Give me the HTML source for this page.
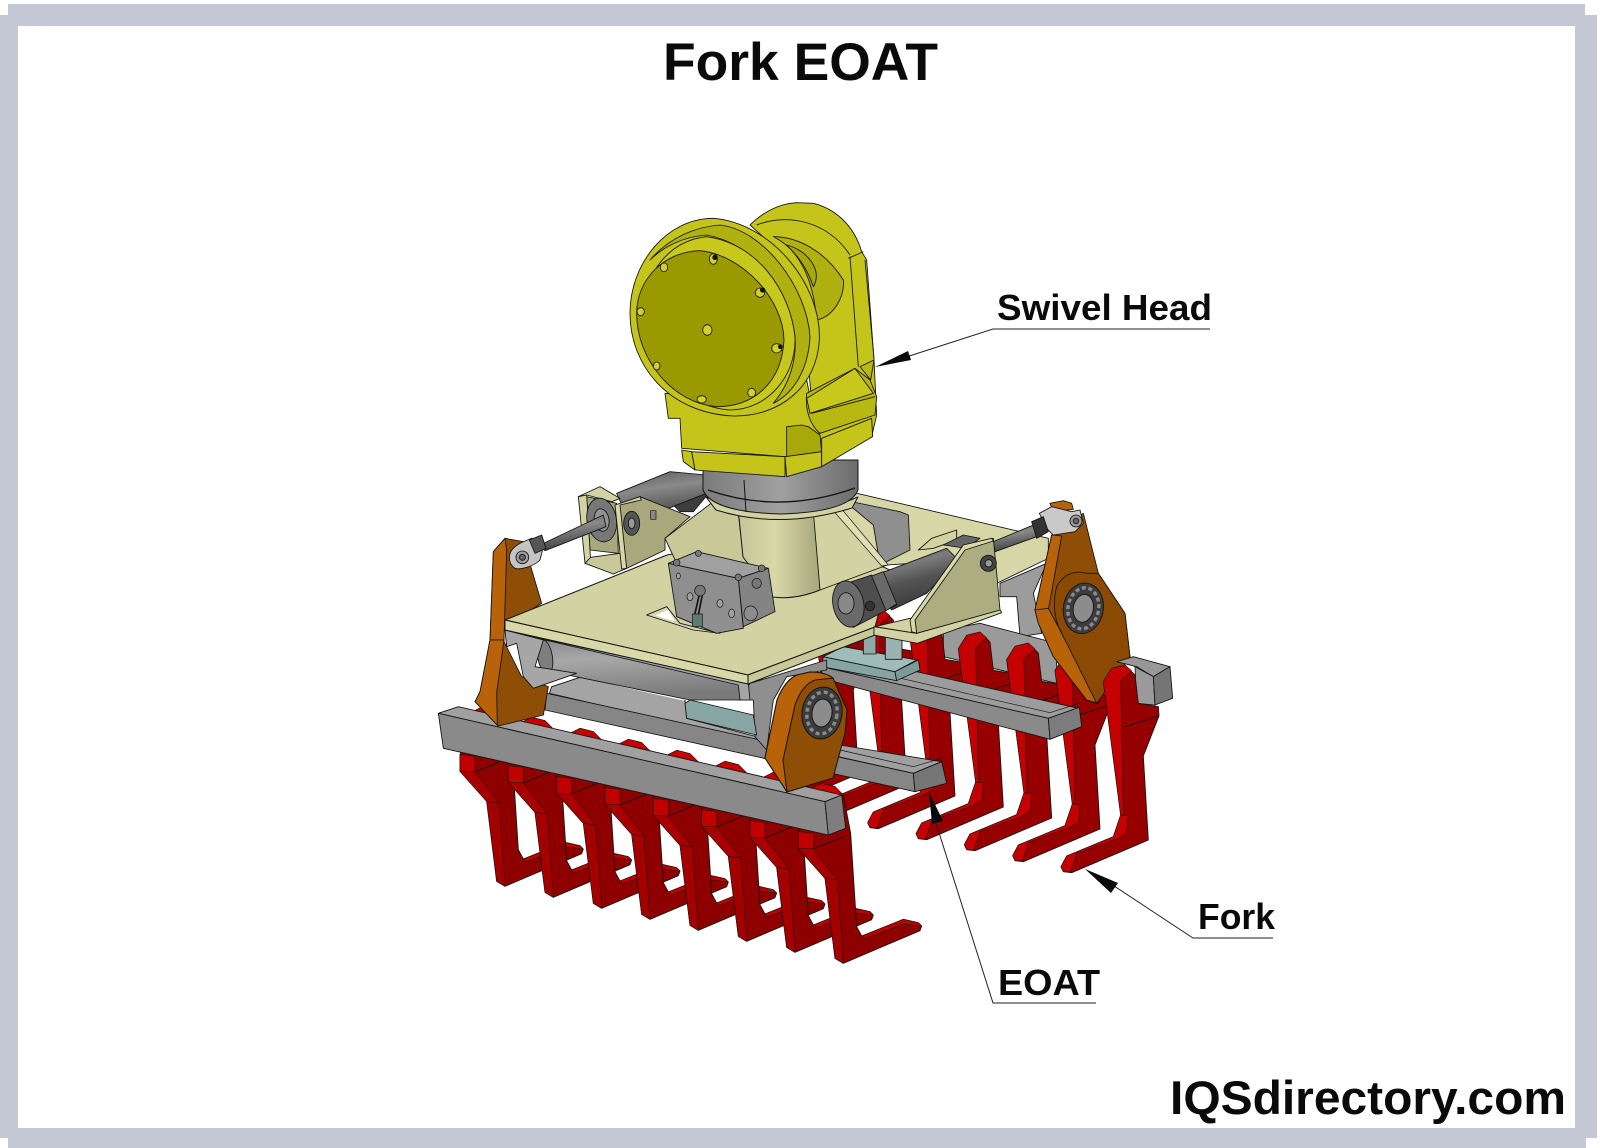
<!DOCTYPE html>
<html><head><meta charset="utf-8"><title>Fork EOAT</title>
<style>html,body{margin:0;padding:0;background:#fff}svg{display:block}text{font-family:"Liberation Sans",Arial,sans-serif;font-weight:bold;fill:#0a0a0a}</style>
</head><body>
<svg xmlns="http://www.w3.org/2000/svg" width="1600" height="1148" viewBox="0 0 1600 1148">
<defs>
<linearGradient id="cyl" x1="0" y1="0" x2="0.25" y2="1"><stop offset="0" stop-color="#5a5a5a"/><stop offset=".4" stop-color="#8a8a8a"/><stop offset="1" stop-color="#3e3e3e"/></linearGradient>
<linearGradient id="cyl2" x1="0" y1="0" x2="0.2" y2="1"><stop offset="0" stop-color="#8c8c8c"/><stop offset=".35" stop-color="#a8a8a8"/><stop offset="1" stop-color="#7a7a7a"/></linearGradient>
<linearGradient id="cyl3" x1="0" y1="0" x2="0.35" y2="1"><stop offset="0" stop-color="#5c5c5c"/><stop offset=".35" stop-color="#7c7c7c"/><stop offset=".6" stop-color="#555"/><stop offset="1" stop-color="#3a3a3a"/></linearGradient>
<linearGradient id="cone" x1="0" y1="0" x2="1" y2="0"><stop offset="0" stop-color="#c4c498"/><stop offset=".45" stop-color="#d8d8a8"/><stop offset="1" stop-color="#a6a67c"/></linearGradient>
<linearGradient id="ring" x1="0" y1="0" x2="1" y2="0"><stop offset="0" stop-color="#7a7a7a"/><stop offset=".5" stop-color="#a0a0a0"/><stop offset="1" stop-color="#6c6c6c"/></linearGradient>
<g id="rf">
<polygon fill="#960000" points="760,125 785,85 825,75 855,105 865,190 925,200 927,228 880,348 895,600 665,698 640,695 633,680 650,648 790,590 812,525"/>
<polygon fill="#c40000" stroke-width="1.5" points="760,125 785,85 825,75 845,92 812,122 820,525 812,525"/>
<polygon fill="#c40000" stroke-width="1.5" points="812,525 835,528 830,580 800,597 680,640 662,696 640,695 633,680 650,648 790,590"/>
<polyline fill="none" points="820,262 925,228"/>
</g>
<g id="ff">
<polygon fill="#8e0000" points="1145,265 1175,250 1215,260 1240,285 1262,400 1280,680 1295,708 1420,658 1465,668 1475,678 1470,692 1240,790 1215,775 1185,535 1105,445 1105,395"/>
<polygon fill="#c80000" stroke-width="1.5" points="1145,265 1175,250 1215,260 1240,285 1200,290"/>
<polygon fill="#c00000" stroke-width="1.5" points="1105,395 1150,400 1150,447 1105,445"/>
<polygon fill="#a80000" stroke-width="1.5" points="1105,445 1150,447 1222,540 1185,535"/>
<polygon fill="#a40000" stroke-width="1.5" points="1185,535 1222,540 1240,790 1215,775"/>
<polygon fill="#b80000" stroke-width="1.5" points="1295,708 1420,658 1465,668 1475,678 1420,672 1305,716"/>
<polyline fill="none" points="1150,447 1240,410"/>
</g>
</defs>

<!-- frame -->
<rect width="1600" height="1148" fill="#fff"/>
<path fill="#c4c8d4" d="M8,4H1585V15H1597V1138H1586V1148H8V1138H0V15H8Z"/>
<rect x="18" y="26" width="1557" height="1102" fill="#fff"/>

<g stroke="#141414" stroke-width="1" stroke-linejoin="round">

<!-- rear top plate + gray rear structure (Z3 coords) -->
<g transform="translate(800 470) scale(.33333)" stroke-width="2.6">
<polygon fill="#d6d6a6" points="150,65 745,205 745,265 590,340 340,280 260,285 90,100"/>
<polygon fill="#9c9c9c" points="600,340 740,280 700,370 725,490 660,500 650,380 600,380"/>
<polygon fill="#8f8f8f" points="130,90 300,125 325,135 330,240 240,285 220,165"/>
<polygon fill="#9a9a9a" points="430,480 540,460 770,520 770,640 430,560"/>
</g>

<!-- rear forks -->
<g transform="translate(850 640) scale(.33333)" stroke-width="2.6">
<use href="#rf" x="-870" y="-198"/>
<use href="#rf" x="-725" y="-165"/>
<use href="#rf" x="-580" y="-132"/>
<use href="#rf" x="-435" y="-99"/>
<use href="#rf" x="-290" y="-66"/>
<use href="#rf" x="-145" y="-33"/>
</g>

<!-- right lever, stub (Z3) -->
<g transform="translate(800 470) scale(.33333)" stroke-width="2.6">
<polygon fill="#8f4e05" points="755,195 850,130 895,310 975,430 990,560 890,700 860,690 760,560 715,460 705,420"/>
<polygon fill="#b8620a" points="755,195 785,198 745,420 705,420"/>
<polygon fill="#b8620a" points="705,420 745,415 780,480 895,700 860,690 760,560 715,460"/>
<path fill="#8a4a04" d="M770,350C790,310 830,300 860,310L895,310 975,430 990,560 890,700 780,480C760,440 760,390 770,350Z"/>
<ellipse cx="850" cy="415" rx="60" ry="76" fill="#3c3c3c" transform="rotate(10 850 415)"/>
<ellipse cx="850" cy="415" rx="46" ry="62" fill="none" stroke="#8a8a8a" stroke-width="10" stroke-dasharray="12 8" transform="rotate(10 850 415)"/>
<ellipse cx="850" cy="415" rx="30" ry="42" fill="#8c8c8c" transform="rotate(10 850 415)"/>
<polygon fill="#b8620a" points="750,100 790,92 815,100 820,118 760,125"/>
<polygon fill="#c9c9c9" points="718,130 755,110 815,125 840,120 850,160 825,185 760,195 740,175"/>
<circle cx="828" cy="153" r="18" fill="#9a9a9a"/><circle cx="828" cy="153" r="8" fill="#6a6a6a"/>
<polygon fill="#989898" points="950,575 1000,560 1110,590 1060,620 1010,590"/>
<polygon fill="#9a9a9a" points="1005,590 1060,620 1065,705 1010,700"/>
<polygon fill="#757575" points="1060,620 1110,590 1118,685 1065,705"/>
</g>

<!-- last rear fork -->
<g transform="translate(850 640) scale(.33333)" stroke-width="2.6"><use href="#rf"/></g>

<!-- long rear bar and teal (Z3) -->
<g transform="translate(800 470) scale(.33333)" stroke-width="2.6">
<polygon fill="#9c9c9c" points="65,590 290,620 350,605 835,715 745,745"/>
<polygon fill="#8a8a8a" points="65,590 745,745 750,808 65,625"/>
<polygon fill="#7c7c7c" points="745,745 838,712 845,770 750,808"/>
<polyline fill="none" points="290,622 750,728 838,700" stroke-width="2"/>
<polygon fill="#86a4a2" points="70,560 285,605 290,632 65,590"/>
<polygon fill="#a0bcba" points="70,560 130,530 350,570 285,605"/>
<polygon fill="#7c9a98" points="285,605 355,570 360,600 290,632"/>
<rect x="190" y="490" width="38" height="62" fill="#8fa9a8"/>
<rect x="256" y="500" width="50" height="68" fill="#9ab2b2"/>
</g>

<!-- left rear cylinder and bracket (Z2) -->
<g transform="translate(480 470) scale(.33333)" stroke-width="2.6">
<polygon fill="#3e3e3e" points="570,95 690,65 640,125 600,125"/>
<polygon fill="url(#cyl)" points="410,70 570,5 680,15 680,70 450,160"/>
<polygon fill="#d2d2a2" points="295,80 360,50 420,85 395,95 320,75"/>
<polygon fill="#a8a87c" points="320,80 410,100 415,250 330,240"/>
<polygon fill="#d2d2a2" points="295,80 320,75 332,275 315,280"/>
<polygon fill="#c8c898" points="315,280 332,262 420,250 440,295 400,312"/>
<ellipse cx="365" cy="150" rx="44" ry="66" fill="#777" transform="rotate(-10 365 150)"/>
<ellipse cx="365" cy="150" rx="22" ry="34" fill="#949494" transform="rotate(-10 365 150)"/>
<polygon fill="url(#cyl)" points="180,225 370,135 378,170 195,242"/>
<polygon fill="#a8a87c" points="418,102 480,80 630,140 555,205 555,240 440,295"/>
<polygon fill="#d6d6a6" points="405,105 480,80 484,90 420,105 440,295 425,297"/>
<ellipse cx="455" cy="160" rx="24" ry="36" fill="#555"/><ellipse cx="455" cy="160" rx="10" ry="16" fill="#999"/>
<rect x="512" y="122" width="16" height="26" fill="#888" stroke-width="2"/>
</g>

<!-- under-plate rail (Z2) -->
<g transform="translate(480 470) scale(.33333)" stroke-width="2.6">
<polygon fill="#a4a4a4" points="215,650 300,622 615,690 620,745 830,800 860,830 855,860 200,695"/>
<polyline fill="none" points="210,670 830,815" stroke-width="2"/>
<polygon fill="#fff" stroke="none" points="290,612 625,685 610,692 300,622"/>
</g>
<!-- rail end (Z4) -->
<g transform="translate(430 700) scale(.33333)" stroke-width="2.6">
<polygon fill="#a0a0a0" points="1000,100 1230,135 1535,185 1450,220 1000,120"/>
<polygon fill="#868686" points="350,-20 1450,220 1455,275 345,30"/>
<polyline fill="none" points="1230,150 1450,200 1535,175" stroke-width="2"/>
<polygon fill="#767676" points="1450,220 1535,185 1550,250 1455,275"/>
</g>

<!-- front forks and bar (Z4) -->
<g transform="translate(430 700) scale(.33333)" stroke-width="2.6">
<use href="#ff" x="-1015" y="-231"/>
<use href="#ff" x="-870" y="-198"/>
<use href="#ff" x="-725" y="-165"/>
<use href="#ff" x="-580" y="-132"/>
<use href="#ff" x="-435" y="-99"/>
<use href="#ff" x="-290" y="-66"/>
<use href="#ff" x="-145" y="-33"/>
<use href="#ff"/>
<polygon fill="#a0a0a0" points="25,40 85,20 1235,285 1185,305"/>
<polygon fill="#8a8a8a" points="25,40 1185,305 1195,405 40,145"/>
<polygon fill="#7e7e7e" points="1185,305 1235,285 1247,385 1195,405"/>
</g>

<!-- left lever (Z2) -->
<g transform="translate(480 470) scale(.33333)" stroke-width="2.6">
<polygon fill="#8f4e05" points="40,245 75,205 130,215 185,400 70,470 72,515 125,620 205,650 190,735 55,768 -15,695 0,665 30,510"/>
<polygon fill="#b8620a" points="40,245 75,205 80,240 72,510 30,510"/>
<polygon fill="#b8620a" points="-15,695 0,665 30,510 72,510 50,668 52,766"/>
<path fill="#c4c4c4" d="M90,250C100,225 130,215 155,205L190,230 180,270C160,290 120,300 105,295 90,285 85,270 90,250Z"/>
<circle cx="127" cy="262" r="19" fill="#9c9c9c"/><circle cx="127" cy="262" r="9" fill="#666"/>
<polygon fill="#555" points="148,210 185,195 198,235 165,250"/>
</g>

<!-- under-plate brackets / cylinder (Z2) -->
<g transform="translate(480 470) scale(.33333)" stroke-width="2.6">
<polygon fill="#8f8f8f" points="810,640 1040,570 1040,600 920,620 880,690 860,840 825,800 820,690 775,690"/>
<polygon fill="#a4a4a4" points="110,490 805,640 810,690 775,690 770,650 190,512"/>
<polygon fill="url(#cyl2)" points="195,510 775,645 780,690 630,690 190,600"/>
<ellipse cx="195" cy="560" rx="22" ry="52" fill="#7e7e7e" transform="rotate(-10 195 560)"/>
<polygon fill="#a6a6a6" points="75,480 190,510 165,590 290,610 160,655 130,620 110,520 80,530"/>
<polygon fill="#88a6a4" points="615,700 630,690 820,735 830,795 620,745"/>
</g>

<!-- main plate -->
<polygon fill="#d2d2a2" points="505,620 667,555 800,530 890,570 875,627 748,675"/>
<polygon fill="#d8d8a8" points="505,620 748,675 748,684 505,630"/>
<polygon fill="#c8c898" points="748,675 875,627 875,635 748,684"/>
<polygon fill="#fff" points="647,615 667,607 675,622"/>

<!-- cone (Z2/Z3) -->
<g transform="translate(480 470) scale(.33333)" stroke-width="2.6">
<polygon fill="#c8c898" points="555,205 700,95 775,130 790,260 880,380 590,280"/>
</g>
<path fill="url(#cone)" d="M738,508H815L820,590Q795,600 773,597L743,557Z"/>
<g transform="translate(800 470) scale(.33333)" stroke-width="2.6">
<polygon fill="#d2d2a2" points="40,125 90,100 262,285 60,360"/>
<polygon fill="#e0e0b4" stroke-width="2" points="85,105 115,105 265,285 245,288"/>
</g>

<!-- center box (Z2) -->
<g transform="translate(480 470) scale(.33333)" stroke-width="2.6">
<polygon fill="#d6d6b0" points="500,435 560,410 600,460 720,490 640,480"/>
<polygon fill="#fff" points="525,436 565,420 585,455" stroke="none"/>
<polygon fill="#8f8f8f" points="565,280 775,325 790,475 710,490 590,440"/>
<polygon fill="#a0a0a0" points="565,280 650,245 865,295 775,325"/>
<polygon fill="#848484" points="775,325 865,295 885,425 790,470"/>
<ellipse cx="595" cy="318" rx="6" ry="9" fill="#a8a8a8" stroke-width="2"/>
<ellipse cx="630" cy="380" rx="9" ry="12" fill="#a0a0a0" stroke-width="2"/>
<ellipse cx="720" cy="400" rx="9" ry="12" fill="#a0a0a0" stroke-width="2"/>
<ellipse cx="755" cy="430" rx="9" ry="13" fill="#a0a0a0" stroke-width="2"/>
<ellipse cx="830" cy="340" rx="14" ry="15" fill="#777" stroke-width="2"/>
<ellipse cx="812" cy="430" rx="20" ry="22" fill="#8c8c8c" stroke-width="2"/>
<path fill="none" stroke-width="5" d="M660,365L645,430 650,465M668,370L655,435"/>
<ellipse cx="660" cy="362" rx="16" ry="16" fill="#777" stroke-width="2"/>
<rect x="637" y="432" width="30" height="38" fill="#5f7a70" stroke-width="2"/>
<circle cx="590" cy="278" r="10" fill="#777" stroke-width="2"/><circle cx="655" cy="250" r="9" fill="#777" stroke-width="2"/>
<circle cx="775" cy="322" r="10" fill="#777" stroke-width="2"/><circle cx="845" cy="295" r="10" fill="#777" stroke-width="2"/>
</g>

<!-- right cylinder + bracket (Z3) -->
<g transform="translate(800 470) scale(.33333)" stroke-width="2.6">
<polygon fill="#d2d2a2" points="222,470 350,490 600,420 605,428 352,520 222,495"/>
<polygon fill="#d2d2a2" points="225,470 330,445 350,490"/>
<polygon fill="#d2d2a2" points="355,240 395,205 470,180 470,210 400,235"/>
<polygon fill="#666" points="430,225 490,195 540,205 500,235"/>
<polygon fill="url(#cyl3)" points="215,320 440,235 475,270 380,370 275,420"/>
<polygon fill="#4e4e4e" points="110,350 215,315 290,405 160,472"/>
<polygon fill="#6a6a6a" points="215,318 250,305 290,402 258,422"/>
<ellipse cx="145" cy="402" rx="46" ry="70" fill="#6a6a6a" transform="rotate(-12 145 402)"/>
<ellipse cx="138" cy="400" rx="24" ry="32" fill="#888"/>
<circle cx="210" cy="408" r="14" fill="#333"/>
<polygon fill="url(#cyl)" points="580,215 700,165 710,200 585,245"/>
<polygon fill="#333" points="695,155 730,140 745,185 710,205"/>
<polygon fill="#adad82" points="345,450 490,230 580,205 590,310 600,420 350,490"/>
<polygon fill="#d8d8a8" points="330,450 490,225 575,205 580,213 495,240 345,450 350,490 335,485"/>
<circle cx="565" cy="280" r="24" fill="#444"/><circle cx="566" cy="280" r="11" fill="#999"/>
</g>

<!-- swivel rings -->
<path fill="#d2d2a2" d="M706,497Q780,530 858,497L852,508Q780,530 716,510Z"/>
<path fill="url(#ring)" d="M703,460H858V490Q850,512 780,514 712,512 703,490Z"/>
<path fill="none" d="M708,490Q780,515 855,488" stroke-width="1.4"/>
<line x1="744" y1="480" x2="746" y2="512"/>

<!-- head (Z1) -->
<g transform="translate(600 180) scale(.33333)" stroke-width="2.6">
<path fill="#c4c41a" d="M450,135C490,95 540,70 590,68L640,70C700,85 760,130 785,215L800,240 822,540 830,705 815,770 665,860 640,720 620,500 500,180Z"/>
<path fill="#b0b010" d="M520,170C600,170 680,220 730,300 735,350 700,410 650,420 640,300 600,210 520,170Z"/>
<path fill="#a8a80c" d="M560,195C620,210 670,270 640,320 620,260 590,225 560,195Z"/>
<polyline fill="none" points="745,235 790,215"/>
<polyline fill="none" points="750,230 775,560"/>
<polyline fill="none" points="795,240 822,535"/>
<path fill="none" d="M470,135C560,100 680,120 750,225"/>
<polygon fill="#c4c41a" points="195,640 205,715 240,715 245,805 555,830 660,815 660,770 640,700 620,600 400,660"/>
<polygon fill="#a8a80c" points="560,740 605,735 625,740 660,765 665,815 560,830"/>
<polygon fill="#c4c41a" points="245,810 275,815 285,870 250,845"/>
<polygon fill="#c4c41a" points="275,815 555,830 555,890 285,870"/>
<polygon fill="#c4c41a" points="555,830 665,815 665,860 560,890"/>
<polygon fill="#c4c41a" points="665,775 815,715 818,770 665,860"/>
<path fill="#b8b812" d="M620,640L765,565 810,600 830,650 825,705 660,760C630,735 615,690 620,640Z"/>
<polygon fill="#c8c81c" points="620,655 765,565 820,640 630,700"/>
<polyline fill="none" points="635,700 825,650"/>
<polygon fill="#b8b812" points="780,560 822,540 812,600"/>
<path fill="#c4c41a" d="M90,400C90,250 200,115 340,115 520,130 665,320 658,480 650,620 540,710 400,708 210,700 90,560 90,400Z"/>
<path fill="#b0b010" d="M150,240C210,170 290,140 360,135 490,150 620,320 630,470 625,570 580,640 520,670 570,610 590,540 585,470 570,330 460,190 320,165 250,170 190,200 150,240Z"/>
<path fill="#c8c81c" d="M130,400C130,280 210,180 320,170 470,190 570,330 585,470 590,590 500,690 390,690 240,680 130,540 130,400Z"/>
<path fill="#9a9a00" d="M110,400C110,300 190,215 300,212 430,225 550,360 552,480 545,610 460,680 350,680 220,670 110,540 110,400Z"/>
<g fill="#d0d030" stroke-width="2.5">
<ellipse cx="192" cy="262" rx="11" ry="13"/><ellipse cx="340" cy="237" rx="12" ry="16"/>
<ellipse cx="480" cy="338" rx="14" ry="14"/><ellipse cx="530" cy="505" rx="15" ry="14"/>
<ellipse cx="455" cy="638" rx="12" ry="13"/><ellipse cx="305" cy="658" rx="14" ry="11"/>
<ellipse cx="170" cy="558" rx="10" ry="12"/><ellipse cx="122" cy="395" rx="11" ry="12"/>
<ellipse cx="322" cy="450" rx="14" ry="16"/></g>
<circle cx="345" cy="232" r="8" fill="#111" stroke="none"/><circle cx="488" cy="330" r="8" fill="#111" stroke="none"/><circle cx="541" cy="500" r="7" fill="#111" stroke="none"/>
</g>

<!-- front lever (global) -->
<path fill="#8f4e05" d="M777,700Q785,680 797,675L810,672Q825,672 833,678L847,710 845,733 833,778 787,792 765,758Z"/>
<path fill="#b8620a" d="M777,700Q785,680 797,675L810,672Q825,672 833,678L815,680Q802,685 795,705L783,760 787,792 765,758Z"/>
<ellipse cx="822" cy="713" rx="20" ry="26" fill="#3c3c3c" transform="rotate(8 822 713)"/>
<ellipse cx="822" cy="713" rx="15" ry="21" fill="none" stroke="#8a8a8a" stroke-width="3.4" stroke-dasharray="4 3" transform="rotate(8 822 713)"/>
<ellipse cx="822" cy="713" rx="10" ry="14" fill="#8c8c8c" transform="rotate(8 822 713)"/>
</g>

<!-- leaders -->
<g fill="none" stroke="#222" stroke-width="1">
<polyline points="1210,329 993,329 900,359"/>
<polyline points="1273,938 1193,938 1105,880"/>
<polyline points="1096,1003 993,1003 935,820"/>
</g>
<g fill="#0a0a0a">
<polygon points="875,367 908,351 911,360"/>
<polygon points="1085,869 1118,883 1111,893"/>
<polygon points="929,792 932,824 943,821"/>
</g>

<!-- text -->
<text x="663" y="80" font-size="53" textLength="275" lengthAdjust="spacingAndGlyphs">Fork EOAT</text>
<text x="997" y="320" font-size="36" textLength="215" lengthAdjust="spacingAndGlyphs">Swivel Head</text>
<text x="1198" y="929" font-size="36" textLength="77" lengthAdjust="spacingAndGlyphs">Fork</text>
<text x="998" y="995" font-size="36" textLength="102" lengthAdjust="spacingAndGlyphs">EOAT</text>
<text x="1170" y="1114" font-size="47" textLength="396" lengthAdjust="spacingAndGlyphs">IQSdirectory.com</text>
</svg>
</body></html>
